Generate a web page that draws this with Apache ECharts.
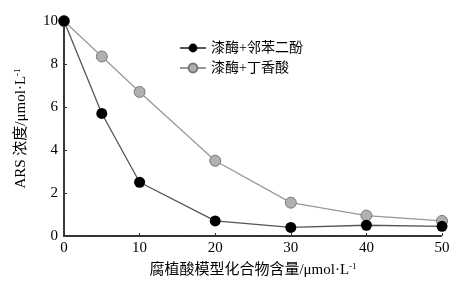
<!DOCTYPE html>
<html><head><meta charset="utf-8">
<script src="https://cdn.jsdelivr.net/npm/echarts@6/dist/echarts.min.js"></script>
<style>html,body{margin:0;padding:0;background:#fff}#c{width:463px;height:284px}</style>
</head><body><div id="c"></div>
<script>
const xValues = [0, 5, 10, 20, 30, 40, 50];
const catecholValues = [10, 5.7, 2.5, 0.7, 0.4, 0.5, 0.45];
const syringicValues = [10, 8.35, 6.7, 3.5, 1.55, 0.95, 0.7];
const seriesNames = ['漆酶+邻苯二酚', '漆酶+丁香酸'];
const FONT = '"Liberation Serif", "Noto Sans CJK SC", serif';
const chart = echarts.init(document.getElementById('c'));
const axisLine = {show: true, lineStyle: {color: '#333', width: 2, type: [2, 1]}};
chart.setOption({
  animation: false,
  textStyle: {fontFamily: FONT},
  grid: {left: 64, right: 21, top: 21, bottom: 48},
  legend: {
    left: 174, top: 36, orient: 'vertical', itemGap: 6,
    itemWidth: 26, itemHeight: 11,
    textStyle: {fontFamily: FONT, fontSize: 14, color: '#000'},
    data: seriesNames
  },
  xAxis: {
    type: 'value', min: 0, max: 50, interval: 10,
    axisLine: axisLine,
    axisTick: {show: true, inside: true, length: 3, lineStyle: {color: '#333'}},
    axisLabel: {fontFamily: FONT, fontSize: 15, color: '#000', margin: 5},
    splitLine: {show: false},
    name: '{a|腐植酸模型化合物含量/μmol·L}{s|-1}',
    nameLocation: 'middle', nameGap: 26,
    nameTextStyle: {rich: {a: {fontFamily: FONT, fontSize: 15, color: '#000'}, s: {fontFamily: FONT, fontSize: 9, color: '#000', padding: [0,0,8,0]}}}
  },
  yAxis: {
    type: 'value', min: 0, max: 10, interval: 2,
    axisLine: axisLine,
    axisTick: {show: true, inside: true, length: 3, lineStyle: {color: '#333'}},
    axisLabel: {fontFamily: FONT, fontSize: 15, color: '#000', margin: 6},
    splitLine: {show: false},
    name: '{a|ARS 浓度/μmol·L}{s|-1}',
    nameLocation: 'middle', nameGap: 34,
    nameTextStyle: {rich: {a: {fontFamily: FONT, fontSize: 15, color: '#000'}, s: {fontFamily: FONT, fontSize: 9, color: '#000', padding: [0,0,8,0]}}}
  },
  series: [
    {
      name: seriesNames[1], type: 'line', z: 2,
      data: xValues.map((x, i) => [x, syringicValues[i]]),
      symbol: 'circle', symbolSize: 11,
      itemStyle: {color: '#b0b0b0', borderColor: '#777', borderWidth: 1},
      lineStyle: {color: '#999', width: 1.3}
    },
    {
      name: seriesNames[0], type: 'line', z: 3,
      data: xValues.map((x, i) => [x, catecholValues[i]]),
      symbol: 'circle', symbolSize: 11,
      itemStyle: {color: '#000'},
      lineStyle: {color: '#555', width: 1.3}
    }
  ]
});
</script></body></html>
